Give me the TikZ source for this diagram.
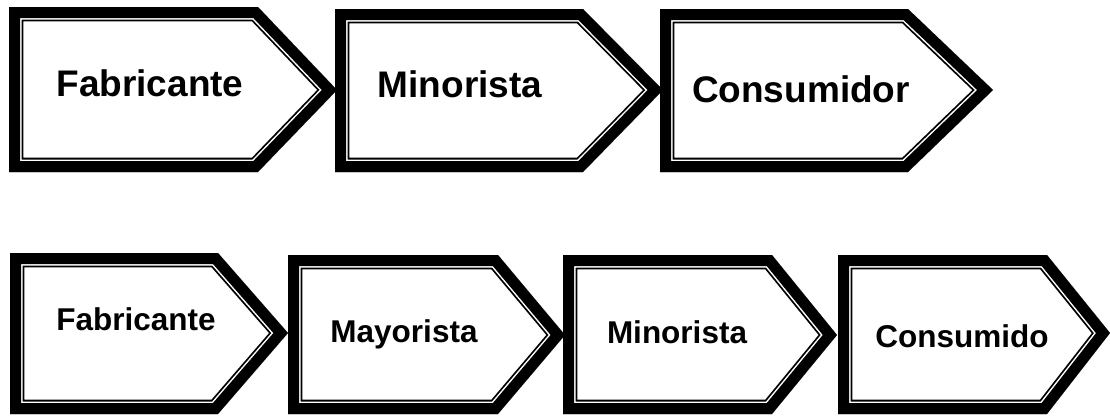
\documentclass[tikz,border=0pt]{standalone}
\usepackage{fontspec}
\setmainfont{Liberation Sans}
\begin{document}
\begin{tikzpicture}[x=1pt,y=-1pt,
  bigtext/.style={font=\bfseries\fontsize{37}{40}\selectfont, anchor=base, inner sep=0pt},
  smalltext/.style={font=\bfseries\fontsize{31.5}{34}\selectfont, anchor=base, inner sep=0pt},
  outerband/.style={draw=black, line join=miter, line width=28.6pt},
  gapband/.style={draw=white, line join=miter, line width=25pt},
  thickband/.style={draw=black, line join=miter, line width=22pt}]
\useasboundingbox (0,0) rectangle (1110,415);

% Pentagon arrow with a thick-thin border drawn inward:
% #1 left x, #2 top y, #3 bottom y, #4 end of flat edges, #5 tip x, #6 tip y
\newcommand\chevronbox[6]{%
  \begin{scope}
    \clip (#1,#2) -- (#4,#2) -- (#5,#6) -- (#4,#3) -- (#1,#3) -- cycle;
    \fill[white] (#1,#2) -- (#4,#2) -- (#5,#6) -- (#4,#3) -- (#1,#3) -- cycle;
    \path[outerband] (#1,#2) -- (#4,#2) -- (#5,#6) -- (#4,#3) -- (#1,#3) -- cycle;
    \path[gapband] (#1,#2) -- (#4,#2) -- (#5,#6) -- (#4,#3) -- (#1,#3) -- cycle;
    \path[thickband] (#1,#2) -- (#4,#2) -- (#5,#6) -- (#4,#3) -- (#1,#3) -- cycle;
  \end{scope}}

% upper chain
\chevronbox{9}{7}{172}{258}{337}{90}
\chevronbox{335}{9}{172}{583}{663}{90}
\chevronbox{660}{9}{172}{908}{993}{90}
\node[bigtext] (fab1) at (150,96) {Fabricante};
\node[bigtext] (min1) at (460,97) {Minorista};
\node[bigtext] (con1) at (801,102) {Consumidor};

% lower chain
\chevronbox{10}{253}{414}{218}{288}{333}
\chevronbox{288}{255}{414}{498}{565}{335}
\chevronbox{563}{255}{414}{772}{837}{335}
\chevronbox{838}{255}{414}{1047}{1110}{333}
\node[smalltext] (fab2) at (136,330) {Fabricante};
\node[smalltext] (may2) at (404,342) {Mayorista};
\node[smalltext] (min2) at (677,343) {Minorista};
\node[smalltext] (con2) at (962,347) {Consumido};
\end{tikzpicture}
\end{document}
